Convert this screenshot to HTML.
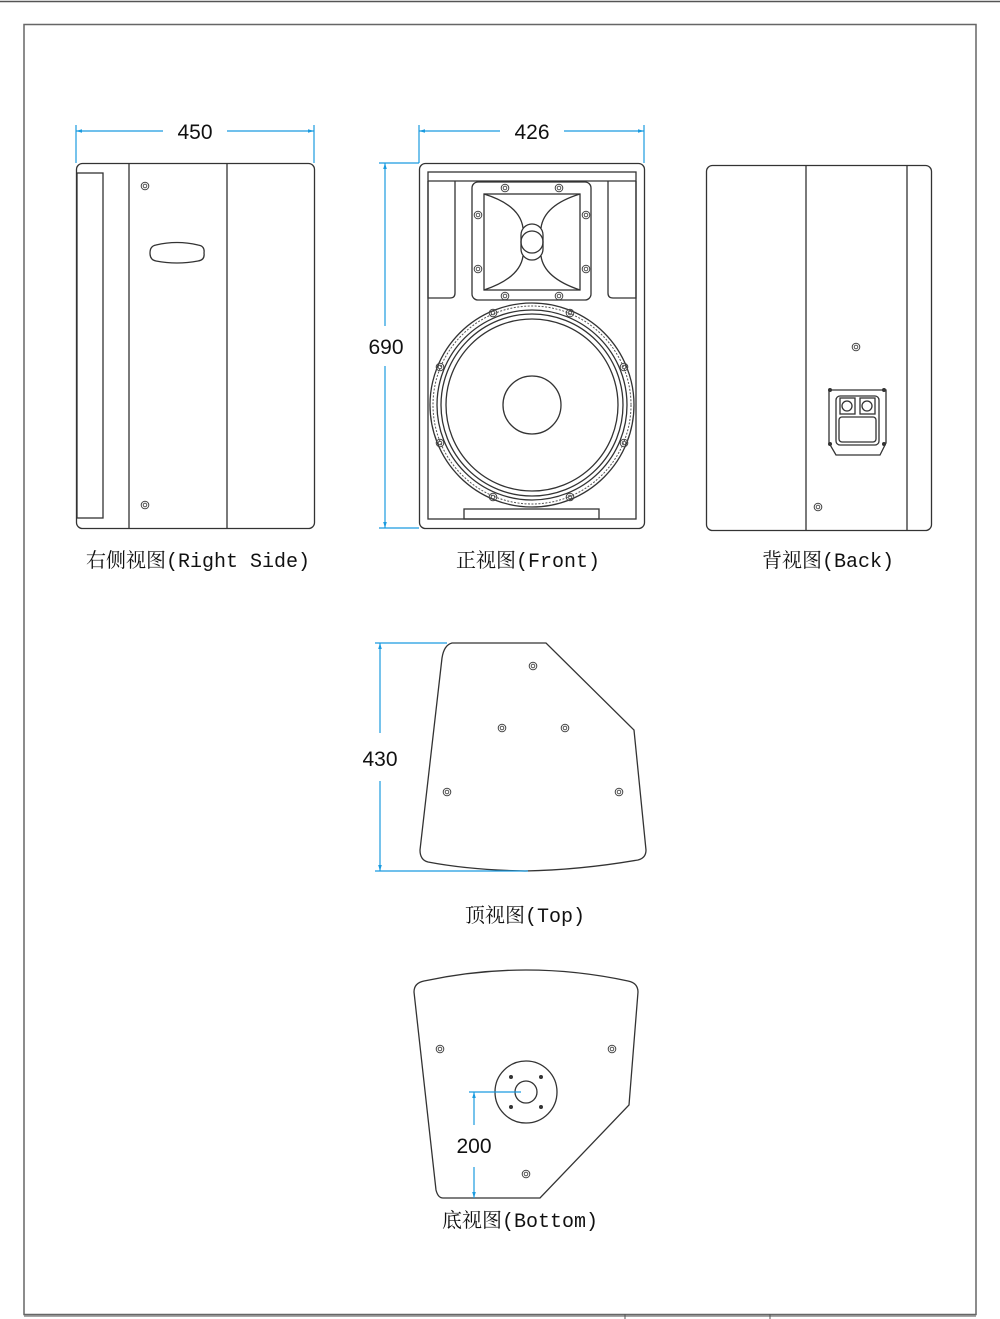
<!DOCTYPE html>
<html><head><meta charset="utf-8"><style>
html,body{margin:0;padding:0;background:#fff;}
svg{display:block;}
.l{fill:none;stroke:#333;stroke-width:1.3;}
.d{fill:none;stroke:#1a9be0;stroke-width:1.2;}
.num{font-family:"Liberation Sans",sans-serif;font-size:21px;fill:#111;text-anchor:middle;}
.lab{font-family:"Liberation Mono","Noto Serif CJK SC",monospace;font-size:20px;fill:#111;text-anchor:middle;}
</style></head><body>
<svg width="1000" height="1319" viewBox="0 0 1000 1319" xmlns="http://www.w3.org/2000/svg">
<defs>
<g id="scr"><circle r="3.8" fill="none" stroke="#444" stroke-width="1"/><circle r="1.8" fill="none" stroke="#444" stroke-width="0.9"/></g>
<marker id="ar" viewBox="0 0 10 10" refX="10" refY="5" markerWidth="7" markerHeight="5" orient="auto-start-reverse"><path d="M0,2 L10,5 L0,8z" fill="#1a9be0"/></marker>
</defs>
<line x1="0" y1="1.5" x2="1000" y2="1.5" stroke="#555" stroke-width="1.5"/>
<rect x="24" y="24.5" width="952" height="1290" fill="none" stroke="#666" stroke-width="1.5"/>
<line x1="24" y1="1316" x2="976" y2="1316" stroke="#888" stroke-width="1.5"/>
<line x1="625" y1="1314" x2="625" y2="1319" stroke="#555"/>
<line x1="770" y1="1314" x2="770" y2="1319" stroke="#555"/>

<rect class="l" x="76.5" y="163.5" width="238" height="365" rx="6"/>
<rect class="l" x="77" y="173" width="26" height="345"/>
<line class="l" x1="129" y1="163" x2="129" y2="528"/>
<line class="l" x1="227" y1="163" x2="227" y2="528"/>
<path class="l" d="M156,245 Q177,240 198,245 Q205,246 204,253 Q205,260 198,261 Q177,265 156,261 Q150,260 150,253 Q150,246 156,245z"/>
<use href="#scr" x="145" y="186"/><use href="#scr" x="145" y="505"/>
<line class="d" x1="76" y1="125" x2="76" y2="163"/><line class="d" x1="314" y1="125" x2="314" y2="163"/>
<line class="d" x1="76" y1="131" x2="163" y2="131" marker-start="url(#ar)"/>
<line class="d" x1="227" y1="131" x2="314" y2="131" marker-end="url(#ar)"/>
<text class="num" x="195" y="139">450</text>
<text class="lab" x="198" y="567">右侧视图(Right Side)</text>

<rect class="l" x="419.5" y="163.5" width="225" height="365" rx="6"/>
<rect class="l" x="428" y="172" width="208" height="347"/>
<line class="l" x1="428" y1="181" x2="636" y2="181"/>
<path class="l" d="M428,181 V298 H450 Q455,298 455,293 V181"/>
<path class="l" d="M636,181 V298 H613 Q608,298 608,293 V181"/>
<rect class="l" x="472" y="182" width="119" height="118" rx="6"/>
<rect class="l" x="484" y="194" width="96" height="96"/>
<path class="l" d="M484,194 Q520,205 523,228 M580,194 Q544,205 541,228 M484,290 Q520,278 523,256 M580,290 Q544,278 541,256"/>
<rect class="l" x="521" y="224" width="22" height="36" rx="11"/>
<circle class="l" cx="532" cy="242" r="11"/>
<use href="#scr" x="505" y="188"/><use href="#scr" x="559" y="188"/><use href="#scr" x="505" y="296"/><use href="#scr" x="559" y="296"/>
<use href="#scr" x="478" y="215"/><use href="#scr" x="478" y="269"/><use href="#scr" x="586" y="215"/><use href="#scr" x="586" y="269"/>
<circle class="l" cx="532" cy="405" r="102"/>
<circle cx="532" cy="405" r="99" fill="none" stroke="#555" stroke-width="1" stroke-dasharray="2 1.5"/>
<circle class="l" cx="532" cy="405" r="95"/>
<circle class="l" cx="532" cy="405" r="91"/>
<circle class="l" cx="532" cy="405" r="86"/>
<circle class="l" cx="532" cy="405" r="29"/>
<use href="#scr" x="493" y="313"/><use href="#scr" x="570" y="313"/><use href="#scr" x="493" y="497"/><use href="#scr" x="570" y="497"/>
<use href="#scr" x="440" y="367"/><use href="#scr" x="624" y="367"/><use href="#scr" x="440" y="443"/><use href="#scr" x="624" y="443"/>
<rect class="l" x="464" y="509" width="135" height="10"/>
<line class="d" x1="419" y1="125" x2="419" y2="163"/><line class="d" x1="644" y1="125" x2="644" y2="163"/>
<line class="d" x1="419" y1="131" x2="500" y2="131" marker-start="url(#ar)"/>
<line class="d" x1="564" y1="131" x2="644" y2="131" marker-end="url(#ar)"/>
<text class="num" x="532" y="139">426</text>
<line class="d" x1="379" y1="163" x2="419" y2="163"/><line class="d" x1="379" y1="528" x2="419" y2="528"/>
<line class="d" x1="385" y1="163" x2="385" y2="326" marker-start="url(#ar)"/>
<line class="d" x1="385" y1="366" x2="385" y2="528" marker-end="url(#ar)"/>
<text class="num" x="386" y="354">690</text>
<text class="lab" x="528" y="567">正视图(Front)</text>

<rect class="l" x="706.5" y="165.5" width="225" height="365" rx="6"/>
<line class="l" x1="806" y1="165" x2="806" y2="530"/>
<line class="l" x1="907" y1="165" x2="907" y2="530"/>
<use href="#scr" x="856" y="347"/><use href="#scr" x="818" y="507"/>
<path class="l" d="M829,390 H886 V443 L880,455 H836 L829,443z"/>
<rect class="l" x="836" y="396" width="43" height="49" rx="4"/>
<rect class="l" x="839" y="417" width="37" height="25" rx="3"/>
<rect class="l" x="840" y="398" width="15" height="16"/><rect class="l" x="860" y="398" width="15" height="16"/>
<circle class="l" cx="847" cy="406" r="5"/><circle class="l" cx="867" cy="406" r="5"/>
<circle cx="830" cy="390" r="2" fill="#333"/><circle cx="884" cy="390" r="2" fill="#333"/><circle cx="830" cy="444" r="2" fill="#333"/><circle cx="884" cy="444" r="2" fill="#333"/>
<text class="lab" x="828" y="567">背视图(Back)</text>

<path class="l" d="M452,643 H546 L634,730 L646,850 Q646,858 638,860 Q580,870 525,871 Q470,870 428,862 Q420,860 420,850 L442,658 Q444,645 452,643z"/>
<use href="#scr" x="533" y="666"/><use href="#scr" x="502" y="728"/><use href="#scr" x="565" y="728"/><use href="#scr" x="447" y="792"/><use href="#scr" x="619" y="792"/>
<line class="d" x1="375" y1="643" x2="447" y2="643"/><line class="d" x1="375" y1="871" x2="528" y2="871"/>
<line class="d" x1="380" y1="643" x2="380" y2="733" marker-start="url(#ar)"/>
<line class="d" x1="380" y1="781" x2="380" y2="871" marker-end="url(#ar)"/>
<text class="num" x="380" y="766">430</text>
<text class="lab" x="525" y="922">顶视图(Top)</text>

<path class="l" d="M414,992 Q414,983 424,981 Q475,970 526,970 Q577,970 628,981 Q638,983 638,992 L629,1105 L540,1198 H443 Q438,1198 436,1190 L414,992z"/>
<use href="#scr" x="440" y="1049"/><use href="#scr" x="612" y="1049"/><use href="#scr" x="526" y="1174"/>
<circle class="l" cx="526" cy="1092" r="31"/>
<circle class="l" cx="526" cy="1092" r="11"/>
<circle cx="511" cy="1077" r="2" fill="#333"/><circle cx="541" cy="1077" r="2" fill="#333"/><circle cx="511" cy="1107" r="2" fill="#333"/><circle cx="541" cy="1107" r="2" fill="#333"/>
<line class="d" x1="469" y1="1092" x2="521" y2="1092"/>
<line class="d" x1="474" y1="1092" x2="474" y2="1125" marker-start="url(#ar)"/>
<line class="d" x1="474" y1="1167" x2="474" y2="1198" marker-end="url(#ar)"/>
<text class="num" x="474" y="1153">200</text>
<text class="lab" x="520" y="1227">底视图(Bottom)</text>
</svg>
</body></html>
